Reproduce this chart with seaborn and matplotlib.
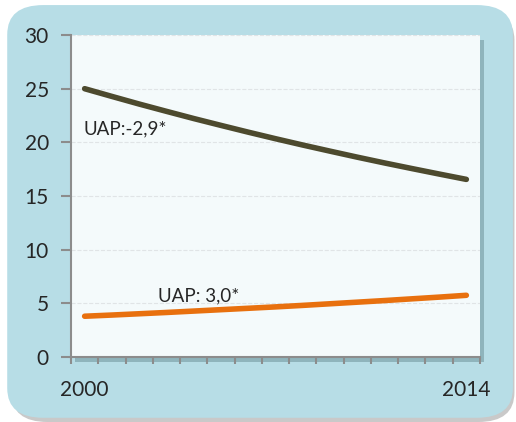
import seaborn as sns
import pandas as pd
import matplotlib.pyplot as plt
from matplotlib.patches import FancyBboxPatch, Rectangle

# values
years = list(range(2000, 2015))
dark_values = [25.00, 24.28, 23.57, 22.89, 22.22, 21.58, 20.95, 20.34, 19.75, 19.18, 18.62, 18.08, 17.56, 17.05, 16.55]
orange_values = [3.80, 3.91, 4.03, 4.15, 4.28, 4.41, 4.54, 4.67, 4.81, 4.96, 5.11, 5.26, 5.42, 5.58, 5.75]
series_names = ['dark', 'orange']
series_labels = ['UAP:-2,9*', 'UAP: 3,0*']
y_ticks = [0, 5, 10, 15, 20, 25, 30]
x_labels = {2000: '2000', 2014: '2014'}

df = pd.DataFrame({
    'year': years * 2,
    'value': dark_values + orange_values,
    'series': [series_names[0]] * len(years) + [series_names[1]] * len(years),
})

sns.set_style('white')
plt.rcParams['font.family'] = ['Lato', 'DejaVu Sans']

fig = plt.figure(figsize=(5.16, 4.22), dpi=100)
fig.patch.set_facecolor('white')

# rounded light blue panel with a soft shadow
fig.patches.append(FancyBboxPatch((0.022, 0.0), 0.975, 0.975, boxstyle='round,pad=0,rounding_size=0.07',
                                  transform=fig.transFigure, facecolor='#c9c9c9', edgecolor='none', zorder=-3))
fig.patches.append(FancyBboxPatch((0.014, 0.01), 0.98, 0.978, boxstyle='round,pad=0,rounding_size=0.07',
                                  transform=fig.transFigure, facecolor='#b7dde6', edgecolor='none', zorder=-2))
# shadow behind the plot area
fig.patches.append(Rectangle((0.1376 + 0.008, 0.154 - 0.012), 0.7926, 0.763, transform=fig.transFigure,
                             facecolor='#7fa3ab', edgecolor='none', alpha=0.7, zorder=-1))

ax = fig.add_axes([0.1376, 0.154, 0.7926, 0.763])
ax.set_zorder(2)
ax.set_facecolor('#f4fafb')

sns.lineplot(data=df, x='year', y='value', hue='series',
             palette={'dark': '#4d4a2e', 'orange': '#e8700e'},
             linewidth=4, legend=False, ax=ax, solid_capstyle='round')

ax.set_xlim(1999.5, 2014.5)
ax.set_ylim(0, 30)
ax.set_yticks(y_ticks)
ax.set_yticklabels([str(t) for t in y_ticks], fontsize=15)
ax.set_xticks([y + 0.5 for y in range(1999, 2015)])
ax.set_xticklabels([])
for yr, lab in x_labels.items():
    ax.text(yr, -0.07, lab, transform=ax.get_xaxis_transform(), ha='center', va='top', fontsize=15)

ax.grid(axis='y', color='#e0e4e6', linestyle='--', linewidth=0.8)
ax.set_axisbelow(True)
for side in ['top', 'right']:
    ax.spines[side].set_visible(False)
for side in ['left', 'bottom']:
    ax.spines[side].set_color('#8c8c8c')
    ax.spines[side].set_linewidth(1.5)
ax.tick_params(axis='y', left=True, length=7, width=1.5, color='#8c8c8c', pad=9)
ax.tick_params(axis='x', bottom=True, length=5, width=1.5, color='#8c8c8c')
ax.set_xlabel('')
ax.set_ylabel('')

ax.text(1999.95, 21.3, series_labels[0], fontsize=13.5, ha='left', va='center')
ax.text(2002.7, 5.7, series_labels[1], fontsize=13.5, ha='left', va='center')

fig.savefig('out.png', dpi=100)
